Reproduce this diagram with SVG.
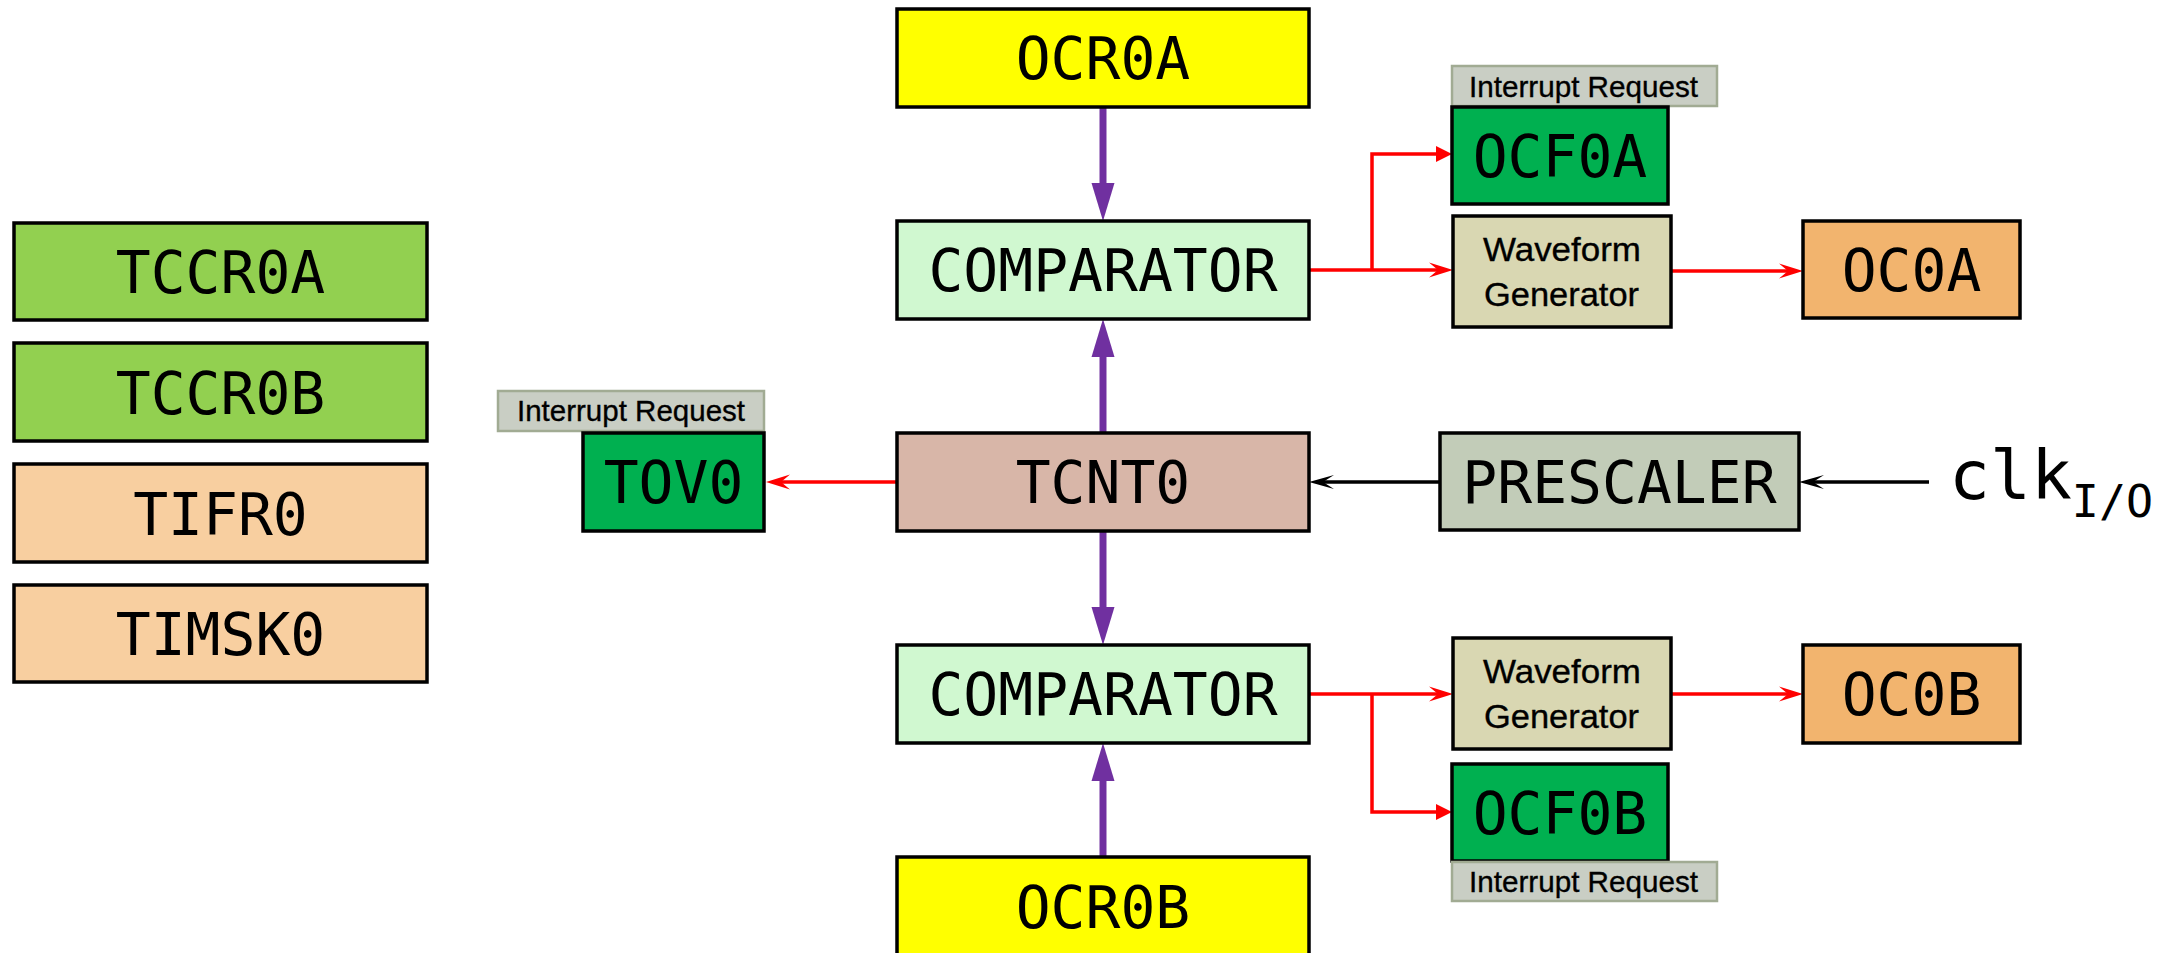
<svg xmlns="http://www.w3.org/2000/svg" width="2184" height="953" viewBox="0 0 2184 953">
<style>
.box{stroke:#000;stroke-width:3.5}
.mono{font-family:"DejaVu Sans Mono","Liberation Mono",monospace;font-size:58px;fill:#000;text-anchor:middle}
.lbl{fill:#C9CEC4;stroke:#A1AB93;stroke-width:2.5}
.sans{font-family:"Liberation Sans","Open Sans",sans-serif;fill:#000;stroke:#000;stroke-width:0.35}
.ir{font-size:30px}
.wf{font-size:34px}
.red{fill:none;stroke:#FF0000;stroke-width:3.5}
.blk{fill:none;stroke:#000;stroke-width:3.5}
.pur{fill:none;stroke:#7030A0;stroke-width:7}
</style>
<defs>
<marker id="purArrow" markerUnits="userSpaceOnUse" viewBox="0 -12 38 24" markerWidth="38" markerHeight="24" refX="0" refY="0" orient="auto"><path d="M0,-11.5 L38,0 L0,11.5 Z" fill="#7030A0"/></marker>
<marker id="redTri" markerUnits="userSpaceOnUse" viewBox="0 -8 16 16" markerWidth="16" markerHeight="16" refX="0" refY="0" orient="auto"><path d="M0,-8 L16,0 L0,8 Z" fill="#FF0000"/></marker>
<marker id="redStealth" markerUnits="userSpaceOnUse" viewBox="0 -8 24 16" markerWidth="24" markerHeight="16" refX="9" refY="0" orient="auto"><path d="M0,-7.5 L24,0 L0,7.5 L9,0 Z" fill="#FF0000"/></marker>
<marker id="blkStealth" markerUnits="userSpaceOnUse" viewBox="0 -8 25 16" markerWidth="25" markerHeight="16" refX="11" refY="0" orient="auto"><path d="M0,-7 L25,0 L0,7 L11,0 Z" fill="#000"/></marker>
</defs>
<rect width="2184" height="953" fill="#fff"/>

<g id="connectors">
<line class="pur" x1="1103" y1="107" x2="1103" y2="183" marker-end="url(#purArrow)"/>
<line class="pur" x1="1103" y1="433" x2="1103" y2="357" marker-end="url(#purArrow)"/>
<line class="pur" x1="1103" y1="531" x2="1103" y2="607" marker-end="url(#purArrow)"/>
<line class="pur" x1="1103" y1="857" x2="1103" y2="781" marker-end="url(#purArrow)"/>
<line class="red" x1="1309" y1="270" x2="1438" y2="270" marker-end="url(#redStealth)"/>
<path class="red" d="M1372,270 V154 H1436" marker-end="url(#redTri)"/>
<line class="red" x1="1671" y1="271" x2="1788" y2="271" marker-end="url(#redStealth)"/>
<line class="red" x1="1309" y1="694" x2="1438" y2="694" marker-end="url(#redStealth)"/>
<path class="red" d="M1372,694 V812 H1436" marker-end="url(#redTri)"/>
<line class="red" x1="1671" y1="694" x2="1788" y2="694" marker-end="url(#redStealth)"/>
<line class="red" x1="897" y1="482" x2="781" y2="482" marker-end="url(#redStealth)"/>
<line class="blk" x1="1440" y1="482" x2="1323" y2="482" marker-end="url(#blkStealth)"/>
<line class="blk" x1="1929" y1="482" x2="1813" y2="482" marker-end="url(#blkStealth)"/>
</g>

<g id="TCCR0A"><rect class="box" x="14" y="223" width="413" height="97" fill="#92D050"/><text class="mono" x="220.5" y="293">TCCR0A</text></g>
<g id="TCCR0B"><rect class="box" x="14" y="343" width="413" height="98" fill="#92D050"/><text class="mono" x="220.5" y="414">TCCR0B</text></g>
<g id="TIFR0"><rect class="box" x="14" y="464" width="413" height="98" fill="#F8CFA0"/><text class="mono" x="220.5" y="535">TIFR0</text></g>
<g id="TIMSK0"><rect class="box" x="14" y="585" width="413" height="97" fill="#F8CFA0"/><text class="mono" x="220.5" y="655">TIMSK0</text></g>

<g id="OCR0A"><rect class="box" x="897" y="9" width="412" height="98" fill="#FFFF00"/><text class="mono" x="1103" y="79">OCR0A</text></g>
<g id="COMPARATOR_A"><rect class="box" x="897" y="221" width="412" height="98" fill="#D0F8D0"/><text class="mono" x="1103" y="291">COMPARATOR</text></g>
<g id="TCNT0"><rect class="box" x="897" y="433" width="412" height="98" fill="#D8B6A8"/><text class="mono" x="1103" y="503">TCNT0</text></g>
<g id="COMPARATOR_B"><rect class="box" x="897" y="645" width="412" height="98" fill="#D0F8D0"/><text class="mono" x="1103" y="715">COMPARATOR</text></g>
<g id="OCR0B"><rect class="box" x="897" y="857" width="412" height="100" fill="#FFFF00"/><text class="mono" x="1103" y="928">OCR0B</text></g>

<g id="TOV0_IRQ"><rect class="lbl" x="498" y="391" width="266" height="40"/><text class="sans ir" x="517" y="421" textLength="228" lengthAdjust="spacingAndGlyphs">Interrupt Request</text></g>
<g id="TOV0"><rect class="box" x="583" y="433" width="181" height="98" fill="#00B050"/><text class="mono" x="673.5" y="503">TOV0</text></g>

<g id="PRESCALER"><rect class="box" x="1440" y="433" width="359" height="97" fill="#C2CCB8"/><text class="mono" x="1619.5" y="503">PRESCALER</text></g>
<g id="clk"><text font-family="DejaVu Sans Mono, Liberation Mono, monospace" font-size="68" x="1949" y="499">clk<tspan font-size="45" y="517">I/O</tspan></text></g>

<g id="OCF0A_IRQ"><rect class="lbl" x="1452" y="66" width="265" height="40"/><text class="sans ir" x="1469" y="97" textLength="229" lengthAdjust="spacingAndGlyphs">Interrupt Request</text></g>
<g id="OCF0A"><rect class="box" x="1452" y="107" width="216" height="97" fill="#00B050"/><text class="mono" x="1560" y="177">OCF0A</text></g>
<g id="WGEN_A"><rect class="box" x="1453" y="216" width="218" height="111" fill="#D9D7B2"/><text class="sans wf" x="1483" y="261" textLength="158" lengthAdjust="spacingAndGlyphs">Waveform</text><text class="sans wf" x="1484" y="306" textLength="155" lengthAdjust="spacingAndGlyphs">Generator</text></g>
<g id="OC0A"><rect class="box" x="1803" y="221" width="217" height="97" fill="#F2B46E"/><text class="mono" x="1911.5" y="291">OC0A</text></g>

<g id="WGEN_B"><rect class="box" x="1453" y="638" width="218" height="111" fill="#D9D7B2"/><text class="sans wf" x="1483" y="683" textLength="158" lengthAdjust="spacingAndGlyphs">Waveform</text><text class="sans wf" x="1484" y="728" textLength="155" lengthAdjust="spacingAndGlyphs">Generator</text></g>
<g id="OC0B"><rect class="box" x="1803" y="645" width="217" height="98" fill="#F2B46E"/><text class="mono" x="1911.5" y="715">OC0B</text></g>
<g id="OCF0B"><rect class="box" x="1452" y="764" width="216" height="97" fill="#00B050"/><text class="mono" x="1560" y="834">OCF0B</text></g>
<g id="OCF0B_IRQ"><rect class="lbl" x="1452" y="862" width="265" height="39"/><text class="sans ir" x="1469" y="892" textLength="229" lengthAdjust="spacingAndGlyphs">Interrupt Request</text></g>
</svg>
